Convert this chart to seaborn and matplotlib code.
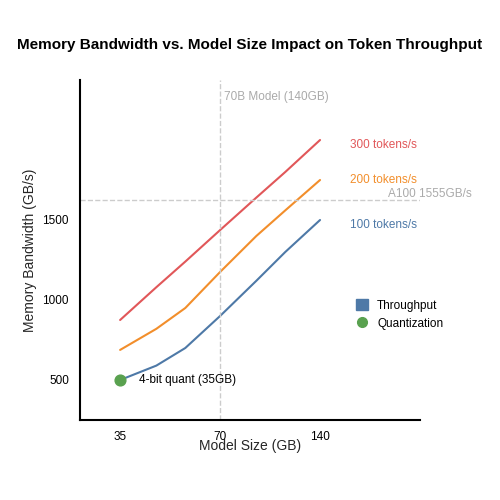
import matplotlib
matplotlib.use("Agg")
import matplotlib.pyplot as plt
import seaborn as sns
import pandas as pd
from matplotlib.lines import Line2D
from matplotlib.patches import Patch

sizes = [35, 45, 55, 70, 90, 110, 140]
bw_100 = [500, 590, 700, 900, 1120, 1300, 1500]
bw_200 = [688, 820, 950, 1175, 1400, 1560, 1750]
bw_300 = [875, 1080, 1240, 1437, 1640, 1800, 2000]
series = ["100 tokens/s", "200 tokens/s", "300 tokens/s"]
colors = ["#4e79a7", "#f28e2b", "#e15759"]
xticks = [35, 70, 140]
yticks = [500, 1000, 1500]

df = pd.DataFrame({"size": sizes * 3,
                   "bw": bw_100 + bw_200 + bw_300,
                   "s": sum([[s] * len(sizes) for s in series], [])})

sns.set_style("white")
plt.rcParams["font.family"] = ["Liberation Sans", "DejaVu Sans"]
plt.rcParams["text.color"] = "black"
fig, ax = plt.subplots(figsize=(5, 5), dpi=100)
fig.subplots_adjust(left=0.16, right=0.84, top=0.84, bottom=0.16)
sns.lineplot(data=df, x="size", y="bw", hue="s", palette=colors, ax=ax, legend=False, linewidth=1.5)
ax.set_xscale("log", base=2)
ax.set_xlim(26.5, 280)
ax.set_ylim(250, 2375)
ax.set_xticks(xticks)
ax.set_xticklabels([str(t) for t in xticks])
ax.minorticks_off()
ax.set_yticks(yticks)
ax.tick_params(labelsize=8.5, length=0, pad=8, labelcolor="black")
sns.despine(ax=ax)
for sp in ["left", "bottom"]:
    ax.spines[sp].set_color("black")
    ax.spines[sp].set_linewidth(1.5)

ax.axvline(70, color="#cccccc", ls="--", lw=1)
ax.axhline(1625, color="#cccccc", ls="--", lw=1)
ax.text(72, 2270, "70B Model (140GB)", color="#aaaaaa", fontsize=8.5, va="center")
ax.text(225, 1665, "A100 1555GB/s", color="#aaaaaa", fontsize=8.5, va="center")

offs = {"100 tokens/s": -30, "200 tokens/s": 0, "300 tokens/s": -30}
for name, c, vals in zip(series, colors, [bw_100, bw_200, bw_300]):
    ax.text(172, vals[-1] + offs[name], name, color=c, fontsize=8.5, va="center")

ax.scatter([35], [500], color="#59a14f", s=60, zorder=5)
ax.text(40, 500, "4-bit quant (35GB)", fontsize=8.5, va="center")

handles = [Patch(color="#4e79a7"), Line2D([], [], marker="o", color="#59a14f", ls="", markersize=7)]
ax.legend(handles, ["Throughput", "Quantization"], loc="center left", bbox_to_anchor=(0.78, 0.31),
          frameon=False, fontsize=8.5, handlelength=1, handleheight=1)

ax.set_xlabel("Model Size (GB)", fontsize=10, labelpad=-3)
ax.set_ylabel("Memory Bandwidth (GB/s)", fontsize=10)
fig.suptitle("Memory Bandwidth vs. Model Size Impact on Token Throughput", fontsize=11, fontweight="bold", y=0.925)
fig.savefig("out.png", dpi=100)
